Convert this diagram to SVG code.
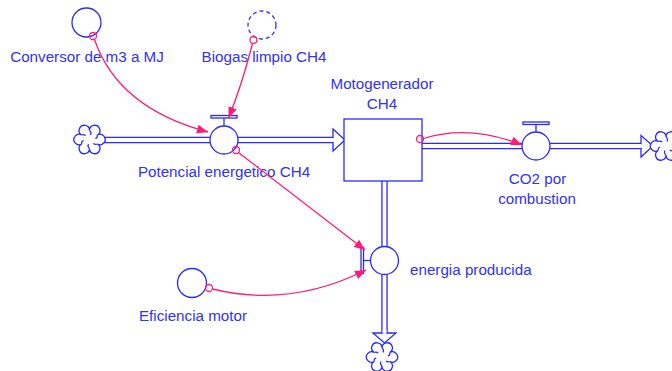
<svg xmlns="http://www.w3.org/2000/svg" width="672" height="371" viewBox="0 0 672 371">
  <style>
    .lbl { font-family: "Liberation Sans", Arial, sans-serif; font-size: 15.2px; fill: #3232f2; }
    .mid { text-anchor: middle; }
    .ln { fill: #fff; stroke: #2a2aff; stroke-width: 1.3; }
    .pipeo { fill: none; stroke: #2a2aff; stroke-width: 6.4; }
    .pipei { fill: none; stroke: #fff; stroke-width: 3.8; }
    .link { fill: none; stroke: #ff1a78; stroke-width: 1.3; }
    .tail { fill: none; stroke: #ff1a78; stroke-width: 1.3; }
  </style>
  <defs>
    <marker id="ah" viewBox="0 0 11 9" refX="11" refY="4.5" markerWidth="11" markerHeight="9" markerUnits="userSpaceOnUse" orient="auto">
      <path d="M0,0 L11,4.5 L0,9 z" fill="#ff1a78"/>
    </marker>
    <g id="cloud">
      <path class="ln" d="M0,-9 A5.2,5.2 0 1 1 7.8,-4.5 A5.2,5.2 0 1 1 7.8,4.5 A5.2,5.2 0 1 1 0,9 A5.2,5.2 0 1 1 -7.8,4.5 A5.2,5.2 0 1 1 -7.8,-4.5 A5.2,5.2 0 1 1 0,-9 z"/>
      <path d="M0,-9 q2.5,2 1,4.5 M7.8,-4.5 q0.5,3 -2,3.5 M7.8,4.5 q-2,1 -4,-0.5 M0,9 q-2.5,-2 -1,-4.5 M-7.8,4.5 q-0.5,-3 2,-3.5 M-7.8,-4.5 q2,-1 4,0.5" fill="none" stroke="#2a2aff" stroke-width="1.2"/>
    </g>
  </defs>

  <!-- flow pipes -->
  <g id="flows">
    <path class="pipeo" d="M102,140 H334"/>
    <path class="pipei" d="M102,140 H335"/>
    <path class="ln" d="M333,129 L345,140 L333,151 z"/>
    <path class="pipei" d="M330,140 H334.5"/>

    <path class="pipeo" d="M422,146 H642"/>
    <path class="pipei" d="M421,146 H643"/>
    <path class="ln" d="M641,135.5 L653,146 L641,157 z"/>
    <path class="pipei" d="M638,146 H641.8"/>

    <path class="pipeo" d="M384.5,181 V334"/>
    <path class="pipei" d="M384.5,180 V335"/>
    <path class="ln" d="M373,333 L384.5,343 L396,333 z"/>
    <path class="pipei" d="M384.5,330 V333.8"/>
  </g>

  <!-- sources and sinks -->
  <g id="source-potencial"><use href="#cloud" x="89.5" y="139.5"/></g>
  <g id="sink-co2"><use href="#cloud" x="666" y="146"/></g>
  <g id="sink-energia"><use href="#cloud" x="382" y="357"/></g>

  <!-- stock -->
  <g id="motogenerador">
    <rect class="ln" x="344" y="119" width="78" height="62"/>
    <text class="lbl mid" x="382" y="89">Motogenerador</text>
    <text class="lbl mid" x="382" y="108.5">CH4</text>
  </g>

  <!-- rates -->
  <g id="potencial-energetico">
    <rect class="ln" x="211" y="115.5" width="26" height="2.5"/>
    <line x1="224" y1="118" x2="224" y2="126" stroke="#2a2aff" stroke-width="1.3"/>
    <circle class="ln" cx="224" cy="140" r="14"/>
    <text class="lbl mid" x="224" y="176.5">Potencial energetico CH4</text>
  </g>

  <g id="co2-combustion">
    <rect class="ln" x="523" y="122" width="26" height="2.5"/>
    <line x1="536" y1="124.5" x2="536" y2="132" stroke="#2a2aff" stroke-width="1.3"/>
    <circle class="ln" cx="536" cy="146" r="14"/>
    <text class="lbl mid" x="537.5" y="184">CO2 por</text>
    <text class="lbl mid" x="537" y="203.5">combustion</text>
  </g>

  <g id="energia-producida">
    <rect class="ln" x="361" y="247.5" width="2.5" height="26"/>
    <line x1="363.5" y1="260.5" x2="370.5" y2="260.5" stroke="#2a2aff" stroke-width="1.3"/>
    <circle class="ln" cx="384.5" cy="260.5" r="14"/>
    <text class="lbl" x="410" y="274.5">energia producida</text>
  </g>

  <!-- auxiliaries / constants -->
  <g id="conversor">
    <circle class="ln" cx="86.5" cy="22.5" r="14.5"/>
    <text class="lbl mid" x="87" y="61.5">Conversor de m3 a MJ</text>
  </g>

  <g id="biogas-limpio">
    <circle cx="262" cy="25" r="14" fill="none" stroke="#2a2aff" stroke-width="1.3" stroke-dasharray="4,3"/>
    <text class="lbl mid" x="264" y="61.5">Biogas limpio CH4</text>
  </g>

  <g id="eficiencia-motor">
    <circle class="ln" cx="192" cy="283" r="14.5"/>
    <text class="lbl mid" x="193" y="321">Eficiencia motor</text>
  </g>

  <!-- information links -->
  <g id="connectors">
    <path class="link" d="M94.5,39.5 Q118,108 208,132" marker-end="url(#ah)"/>
    <circle class="tail" cx="93" cy="36" r="3.5"/>

    <path class="link" d="M252.5,43.5 Q242,85 228.5,118" marker-end="url(#ah)"/>
    <circle class="tail" cx="253.5" cy="40" r="3.5"/>

    <path class="link" d="M238.5,152.5 L365,250" marker-end="url(#ah)"/>
    <circle class="tail" cx="236" cy="150" r="3.5"/>

    <path class="link" d="M212.5,289 Q290,308 366,270" marker-end="url(#ah)"/>
    <circle class="tail" cx="209" cy="288" r="3.5"/>

    <path class="link" d="M423.5,138.5 Q470,124 522,145" marker-end="url(#ah)"/>
    <circle class="tail" cx="420" cy="139" r="3.5"/>
  </g>
</svg>
